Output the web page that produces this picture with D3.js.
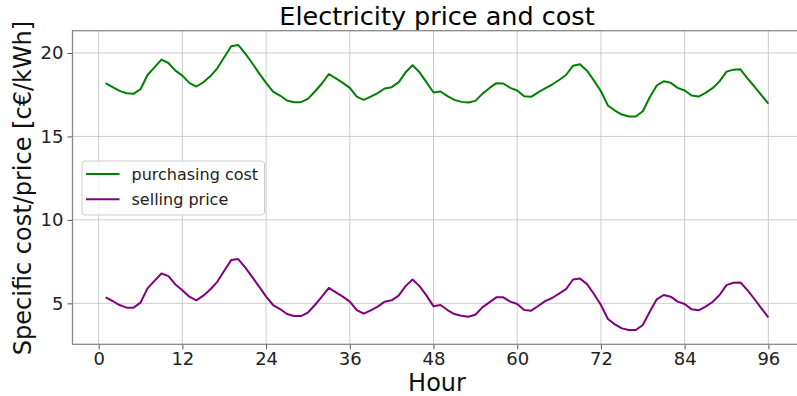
<!DOCTYPE html>
<html>
<head>
<meta charset="utf-8">
<script src="https://cdn.jsdelivr.net/npm/d3@7"></script>
<style>
  html, body { margin: 0; padding: 0; background: #fff; }
  svg { display: block; font-family: "DejaVu Sans", sans-serif; }
</style>
</head>
<body>
<svg id="chart" width="797" height="396"></svg>
<script>
// Hourly series, hours 1..96
const hours = d3.range(1, 97);

const purchasingCost = [
  18.19, 17.95, 17.73, 17.59, 17.55, 17.83, 18.68, 19.14, 19.60, 19.40,
  18.94, 18.64, 18.21, 17.99, 18.24, 18.60, 19.08, 19.74, 20.40, 20.48,
  19.98, 19.40, 18.78, 18.21, 17.69, 17.45, 17.15, 17.05, 17.05, 17.25,
  17.69, 18.17, 18.74, 18.48, 18.21, 17.91, 17.39, 17.19, 17.39, 17.59,
  17.87, 17.95, 18.24, 18.84, 19.26, 18.84, 18.24, 17.63, 17.69, 17.41,
  17.19, 17.07, 17.03, 17.13, 17.55, 17.89, 18.19, 18.17, 17.91, 17.75,
  17.41, 17.37, 17.64, 17.88, 18.11, 18.38, 18.68, 19.24, 19.32, 18.94,
  18.34, 17.71, 16.85, 16.55, 16.31, 16.19, 16.19, 16.51, 17.35, 18.05,
  18.30, 18.21, 17.91, 17.75, 17.45, 17.39, 17.61, 17.89, 18.30, 18.88,
  19.00, 19.02, 18.48, 17.99, 17.47, 16.97
];

const sellingPrice = [
  5.36, 5.14, 4.90, 4.74, 4.74, 5.04, 5.90, 6.35, 6.79, 6.63,
  6.13, 5.79, 5.40, 5.18, 5.46, 5.83, 6.29, 6.95, 7.59, 7.65,
  7.15, 6.59, 6.00, 5.40, 4.90, 4.66, 4.36, 4.24, 4.24, 4.45,
  4.90, 5.40, 5.93, 5.66, 5.40, 5.10, 4.60, 4.38, 4.58, 4.80,
  5.10, 5.18, 5.46, 6.03, 6.43, 6.03, 5.46, 4.82, 4.90, 4.60,
  4.36, 4.26, 4.20, 4.32, 4.76, 5.06, 5.36, 5.36, 5.10, 4.96,
  4.60, 4.56, 4.84, 5.13, 5.32, 5.58, 5.85, 6.43, 6.49, 6.15,
  5.56, 4.90, 4.06, 3.74, 3.50, 3.40, 3.40, 3.70, 4.50, 5.24,
  5.50, 5.40, 5.10, 4.96, 4.64, 4.58, 4.80, 5.08, 5.50, 6.09,
  6.23, 6.25, 5.79, 5.26, 4.70, 4.16
];

const seriesNames = ["purchasing cost", "selling price"];
const seriesColors = ["green", "purple"];
const xTicks = [0, 12, 24, 36, 48, 60, 72, 84, 96];
const yTicks = [5, 10, 15, 20];

const svg = d3.select("#chart");
const plot = { left: 72.5, right: 801.5, top: 30.7, bottom: 344.3 };

// Axis limits with 5% padding around the data extent
function padded(lo, hi) {
  const m = (hi - lo) * 0.05;
  return [lo - m, hi + m];
}
const allY = purchasingCost.concat(sellingPrice);
const x = d3.scaleLinear().domain(padded(d3.min(hours), d3.max(hours))).range([plot.left, plot.right]);
const y = d3.scaleLinear().domain(padded(d3.min(allY), d3.max(allY))).range([plot.bottom, plot.top]);

// Grid
const grid = svg.append("g").attr("stroke", "#b0b0b0").attr("stroke-width", 0.8).attr("opacity", 0.8);
grid.selectAll("line.gx").data(xTicks).join("line")
  .attr("x1", d => x(d)).attr("x2", d => x(d))
  .attr("y1", plot.top).attr("y2", plot.bottom);
grid.selectAll("line.gy").data(yTicks).join("line")
  .attr("x1", plot.left).attr("x2", plot.right)
  .attr("y1", d => y(d)).attr("y2", d => y(d));

// Lines
const line = d3.line().x((d, i) => x(hours[i])).y(d => y(d));
[purchasingCost, sellingPrice].forEach((s, k) => {
  svg.append("path").datum(s)
    .attr("fill", "none")
    .attr("stroke", seriesColors[k])
    .attr("stroke-width", 2)
    .attr("stroke-linejoin", "round")
    .attr("d", line);
});

// Axes
const xAxis = svg.append("g").attr("transform", `translate(0,${plot.bottom})`)
  .call(d3.axisBottom(x).tickValues(xTicks).tickSize(5).tickPadding(3));
const yAxis = svg.append("g").attr("transform", `translate(${plot.left},0)`)
  .call(d3.axisLeft(y).tickValues(yTicks).tickSize(5).tickPadding(4));
[xAxis, yAxis].forEach(a => {
  a.select(".domain").remove();
  a.selectAll(".tick line").attr("stroke", "#555").attr("stroke-width", 1);
  a.selectAll(".tick text").attr("fill", "#222").style("font-size", "18px").style("font-family", "DejaVu Sans");
});

// Frame
svg.append("rect")
  .attr("x", plot.left).attr("y", plot.top)
  .attr("width", plot.right - plot.left).attr("height", plot.bottom - plot.top)
  .attr("fill", "none").attr("stroke", "#888").attr("stroke-width", 1.3);

// Titles
svg.append("text").attr("x", 437).attr("y", 25).attr("text-anchor", "middle")
  .style("font-size", "25.5px").attr("fill", "#000").text("Electricity price and cost");
svg.append("text").attr("x", 437).attr("y", 391).attr("text-anchor", "middle")
  .style("font-size", "24px").attr("fill", "#111").text("Hour");
svg.append("text").attr("transform", "translate(31,188) rotate(-90)").attr("text-anchor", "middle")
  .style("font-size", "24px").attr("fill", "#111").text("Specific cost/price [c€/kWh]");

// Legend
const lg = svg.append("g").attr("transform", "translate(82,161)");
lg.append("rect").attr("width", 182.5).attr("height", 54).attr("rx", 3)
  .attr("fill", "#fff").attr("fill-opacity", 0.8).attr("stroke", "#ccc").attr("stroke-width", 1);
seriesNames.forEach((name, i) => {
  const cy = 13 + i * 25.3;
  lg.append("line").attr("x1", 4).attr("x2", 37.5).attr("y1", cy).attr("y2", cy)
    .attr("stroke", seriesColors[i]).attr("stroke-width", 2);
  lg.append("text").attr("x", 49.5).attr("y", cy + 5.5)
    .style("font-size", "16px").attr("fill", "#222").text(name);
});
</script>
</body>
</html>
